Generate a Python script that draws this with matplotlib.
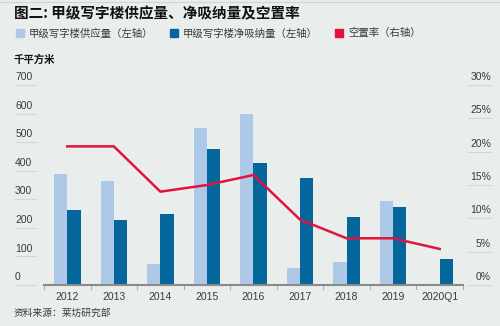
import matplotlib
matplotlib.use("Agg")
import matplotlib.pyplot as plt
import matplotlib.transforms as mtransforms
import numpy as np

plt.rcParams['font.family'] = ['Noto Sans CJK SC', 'DejaVu Sans']

# data
years = ['2012', '2013', '2014', '2015', '2016', '2017', '2018', '2019', '2020Q1']
supply = [388, 365, 73, 548, 600, 58, 79, 293, 0]          # 千平方米
absorption = [264, 228, 250, 475, 428, 375, 237, 274, 91]  # 千平方米
vacancy = [20.8, 20.8, 14.0, 15.0, 16.5, 9.8, 7.0, 7.0, 5.4]  # %

left_ticks = [0, 100, 200, 300, 400, 500, 600, 700]
right_ticks = [0, 5, 10, 15, 20, 25, 30]

bg = '#e9eeec'
c_supply = '#aec8e8'
c_absorb = '#05669b'
c_vac = '#e0143c'
c_text = '#3a3a3a'
latin = ['Liberation Sans', 'DejaVu Sans']

fig = plt.figure(figsize=(5, 3.26), dpi=100, facecolor=bg)
ax = fig.add_axes([0.088, 0.126, 0.838, 0.613])
ax.set_facecolor(bg)
ax2 = ax.twinx()

x = np.arange(len(years))
w = 0.285
ax.bar(x - w / 2, supply, w, color=c_supply, zorder=2)
ax.bar(x + w / 2, absorption, w, color=c_absorb, zorder=2)
ax.set_xlim(-0.5, len(years) - 0.5)
ax.set_ylim(0, 700)

ax2.plot(x[:len(vacancy)], vacancy, color=c_vac, lw=1.8, zorder=3)
ax2.set_ylim(0, 30)

for a in (ax, ax2):
    for s in a.spines.values():
        s.set_visible(False)
    a.set_yticks([])
ax.set_xticks([])

# baseline and category separators
ax.axhline(0, color='#8a8a8a', lw=1.5, zorder=4, clip_on=False)
trans_x = mtransforms.blended_transform_factory(ax.transData, ax.transAxes)
for b in np.arange(-0.5, len(years) - 0.4, 1.0):
    ax.plot([b, b], [0, -0.022], color='#aaaaaa', lw=0.8, transform=trans_x, clip_on=False)
for i, yr in enumerate(years):
    ax.text(i, -0.035, yr, transform=trans_x, ha='center', va='top',
            fontsize=7.5, color=c_text, family=latin)

# left axis labels with short rules under them
tl = mtransforms.blended_transform_factory(ax.transAxes, ax.transData)
for v in left_ticks:
    ax.plot([-0.069, -0.019], [v, v], color='#d2d8d6', lw=0.8, transform=tl, clip_on=False)
    ax.text(-0.069, v + 10, str(v), transform=tl, ha='left', va='bottom',
            fontsize=7.5, color=c_text, family=latin)

# right axis labels
tr = mtransforms.blended_transform_factory(ax2.transAxes, ax2.transData)
for v in right_ticks:
    ax2.plot([1.012, 1.067], [v, v], color='#d2d8d6', lw=0.8, transform=tr, clip_on=False)
    ax2.text(1.067, v + 0.45, f'{v}%', transform=tr, ha='right', va='bottom',
             fontsize=7.5, color=c_text, family=latin)

# title, legend, unit, source
fig.add_artist(plt.Line2D([0, 1], [0.995, 0.995], color='#cfd5d3', lw=0.8))
fig.text(0.028, 0.960, '图二: 甲级写字楼供应量、净吸纳量及空置率', fontsize=10.5,
         fontweight='bold', color='#111111', va='center')

legend_items = [(0.031, c_supply, '甲级写字楼供应量（左轴）'),
                (0.340, c_absorb, '甲级写字楼净吸纳量（左轴）'),
                (0.670, c_vac, '空置率（右轴）')]
for lx, col, lab in legend_items:
    fig.patches.append(plt.Rectangle((lx, 0.885), 0.016, 0.026, color=col,
                                     transform=fig.transFigure, figure=fig))
    fig.text(lx + 0.026, 0.898, lab, fontsize=7.5, color=c_text, va='center')

fig.text(0.028, 0.818, '千平方米', fontsize=7.5, fontweight='bold', color='#111111', va='center')
fig.text(0.028, 0.040, '资料来源：莱坊研究部', fontsize=7, color=c_text, va='center')

fig.savefig('out.png', dpi=100, facecolor=bg)
